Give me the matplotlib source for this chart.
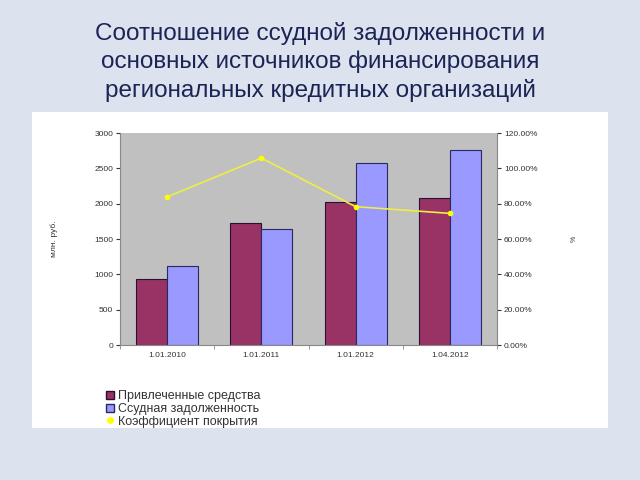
import matplotlib.pyplot as plt
import matplotlib.patches as mpatches
from matplotlib.lines import Line2D
from matplotlib.ticker import FuncFormatter
import numpy as np

plt.rcParams['font.family'] = ['Liberation Sans', 'DejaVu Sans']

# data
dates = ['1.01.2010', '1.01.2011', '1.01.2012', '1.04.2012']
attracted = [935, 1730, 2025, 2075]      # Привлеченные средства, млн. руб.
loans = [1120, 1640, 2580, 2765]         # Ссудная задолженность, млн. руб.
coverage = [0.838, 1.058, 0.783, 0.745]  # Коэффициент покрытия

title = ('Соотношение ссудной задолженности и\n'
         'основных источников финансирования\n'
         'региональных кредитных организаций')

fig = plt.figure(figsize=(6.4, 4.8), dpi=100)
fig.patch.set_facecolor('#dce3ee')

# white panel behind the chart
fig.patches.append(mpatches.Rectangle((32 / 640, 1 - 428 / 480), 576 / 640, 316 / 480,
                                      transform=fig.transFigure, facecolor='white',
                                      edgecolor='none', zorder=-1))

fig.text(0.5, 1 - 62 / 480, title, ha='center', va='center', fontsize=17.5,
         color='#1c2456', linespacing=1.32)

ax = fig.add_axes([120 / 640, 1 - 345 / 480, 377 / 640, 212 / 480])
ax.set_facecolor('#c0c0c0')

x = np.arange(len(dates))
w = 0.33
ax.bar(x - w / 2, attracted, w, color='#993366', edgecolor='#2a1030', linewidth=0.8, zorder=2)
ax.bar(x + w / 2, loans, w, color='#9999ff', edgecolor='#2a2a60', linewidth=0.8, zorder=2)

ax.set_xlim(-0.5, len(dates) - 0.5)
ax.set_ylim(0, 3000)
ax.set_yticks(range(0, 3001, 500))
ax.set_xticks(x)
ax.set_xticklabels(dates)
ax.set_xticks(np.arange(-0.5, len(dates), 1), minor=True)
ax.tick_params(axis='x', which='major', length=0, labelsize=6, colors='#333333', pad=5)
ax.tick_params(axis='x', which='minor', length=3, color='#888888')
ax.tick_params(axis='y', labelsize=6, colors='#333333', length=3, pad=2)
for s in ['top', 'right']:
    ax.spines[s].set_visible(False)
ax.spines['left'].set_color('#888888')
ax.spines['bottom'].set_color('#888888')
ax.set_ylabel('млн. руб.', fontsize=6, color='#333333', labelpad=26)

ax2 = ax.twinx()
ax2.plot(x, coverage, color='#eeee44', linewidth=1.2, marker='o', markersize=3,
         markerfacecolor='#ffff00', markeredgecolor='#ffff00', zorder=3)
ax2.set_ylim(0, 1.2)
ax2.set_yticks(np.arange(0, 1.21, 0.2))
ax2.yaxis.set_major_formatter(FuncFormatter(lambda v, p: f'{v * 100:.2f}%'))
ax2.tick_params(axis='y', labelsize=6, colors='#333333', length=3, pad=2)
for s in ['top', 'left', 'bottom']:
    ax2.spines[s].set_visible(False)
ax2.spines['right'].set_color('#888888')
ax2.set_ylabel('%', fontsize=5, color='#333333', labelpad=24)

handles = [
    Line2D([], [], marker='s', linestyle='none', markersize=6,
           markerfacecolor='#993366', markeredgecolor='#2a1030'),
    Line2D([], [], marker='s', linestyle='none', markersize=6,
           markerfacecolor='#9999ff', markeredgecolor='#2a2a60'),
    Line2D([], [], marker='o', linestyle='none', markersize=4,
           markerfacecolor='#ffff00', markeredgecolor='#ffff00'),
]
labels = ['Привлеченные средства', 'Ссудная задолженность', 'Коэффициент покрытия']
fig.legend(handles, labels, loc='upper left', bbox_to_anchor=(100 / 640, 1 - 384 / 480),
           frameon=False, fontsize=9, handlelength=0.6, handletextpad=0.3,
           labelspacing=0.05, borderpad=0, labelcolor='#333333')

fig.savefig('out.png', dpi=100, facecolor=fig.get_facecolor())
